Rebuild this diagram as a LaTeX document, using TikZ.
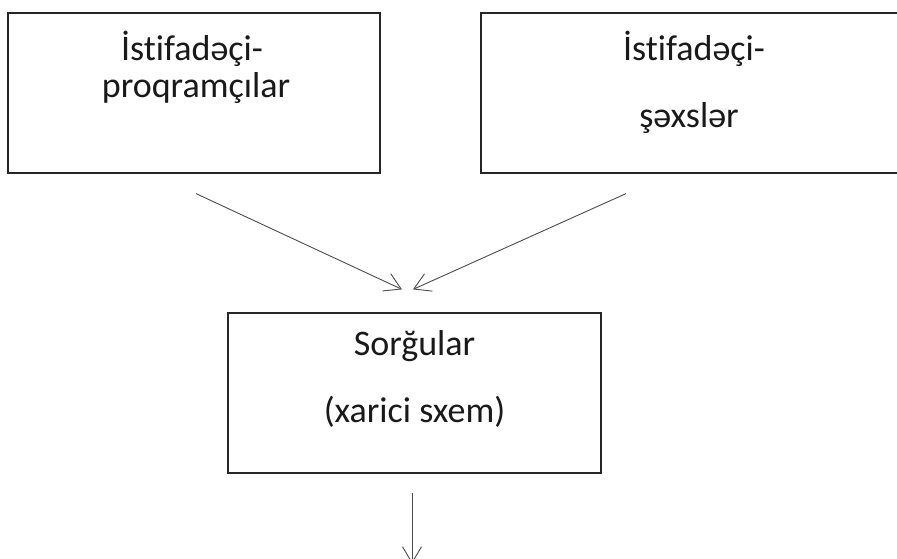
\documentclass[tikz,border=0pt]{standalone}
\usepackage{fontspec}
\setmainfont{Carlito}[Ligatures={TeX,NoCommon}]
\usetikzlibrary{arrows.meta}
\begin{document}
\begin{tikzpicture}[x=1pt,y=1pt,
  box/.style={draw=black!85,line width=1.2pt,minimum height=160pt,inner sep=0pt},
  lbl/.style={font=\fontsize{36}{43}\selectfont,text=black!90,inner sep=0pt,anchor=base},
  arr/.style={draw=black!70,line width=0.9pt,-{Straight Barb[length=16pt,width=19pt]}}]
  % page frame; the right box runs past the edge
  \clip (0,0) rectangle (897,559);
  \fill[white] (0,0) rectangle (897,559);

  % boxes
  \node[box,minimum width=372pt] (L) at (194,466) {};
  \node[box,minimum width=422pt] (R) at (692,466) {};
  \node[box,minimum width=373pt] (M) at (414.5,166) {};

  % box captions
  \node[lbl] (L1) at (192,498) {İstifadəçi-};
  \node[lbl] (L2) at (196,461) {proqramçılar};
  \node[lbl] (R1) at (694,498) {İstifadəçi-};
  \node[lbl] (R2) at (689,431) {şəxslər};
  \node[lbl] (M1) at (414.5,203) {Sorğular};
  \node[lbl] (M2) at (414.5,136) {(xarici sxem)};

  % connectors
  \draw[arr] ([shift={(2pt,-20pt)}]L.south) -- ([shift={(-12.5pt,23pt)}]M.north);
  \draw[arr] ([shift={(-66pt,-20pt)}]R.south) -- ([shift={(-1.5pt,23pt)}]M.north);
  \draw[arr] ([shift={(-2.5pt,-19pt)}]M.south) -- ([shift={(-2.5pt,-90pt)}]M.south);
\end{tikzpicture}
\end{document}
